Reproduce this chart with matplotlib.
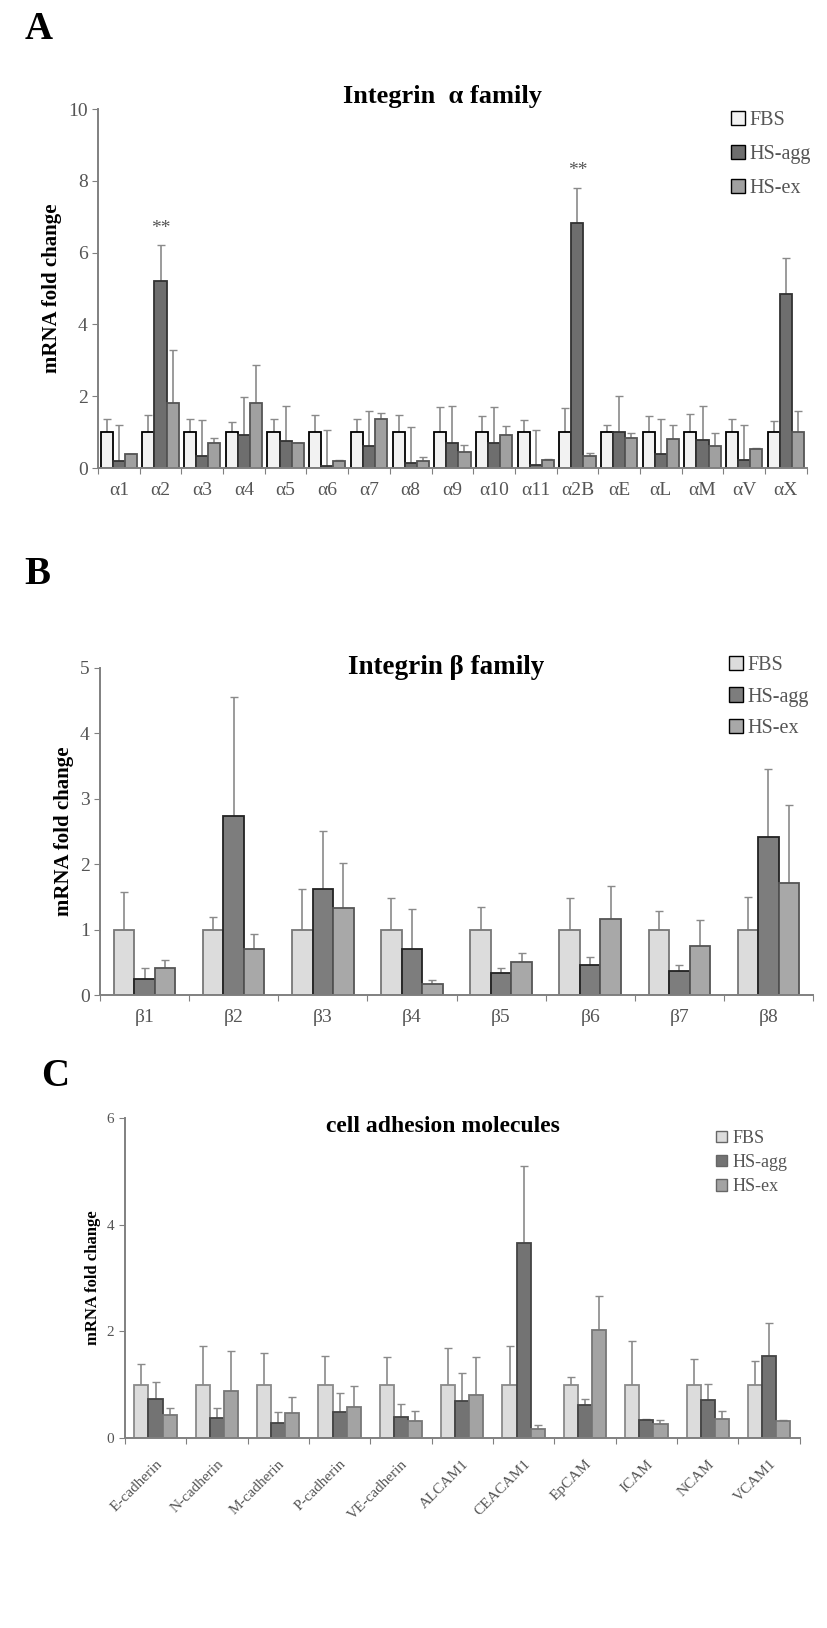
import numpy as np
import matplotlib
matplotlib.use('Agg')
import matplotlib.pyplot as plt
from matplotlib.patches import Patch

plt.rcParams['font.family'] = 'serif'
plt.rcParams['font.serif'] = ['Liberation Serif', 'DejaVu Serif']

series = ['FBS', 'HS-agg', 'HS-ex']

# ── panel A: integrin alpha family ──────────────────────────────────────────
a_labels = ['α1', 'α2', 'α3', 'α4', 'α5', 'α6', 'α7', 'α8', 'α9', 'α10',
            'α11', 'α2B', 'αE', 'αL', 'αM', 'αV', 'αX']
a_fbs = [1.0] * 17
a_fbs_sd = [.36, .48, .36, .27, .36, .48, .36, .48, .70, .44, .35, .67,
            .20, .44, .50, .36, .30]
a_agg = [.19, 5.2, .33, .93, .74, .05, .62, .14, .70, .70, .09, 6.84,
         1.0, .40, .77, .23, 4.85]
a_agg_sd = [1.01, 1.0, 1.02, 1.04, .99, 1.0, .96, 1.0, 1.03, 1.0, .96, .97,
            1.02, .96, .96, .97, 1.01]
a_ex = [.38, 1.81, .70, 1.81, .70, .19, 1.36, .19, .46, .93, .23, .33,
        .83, .81, .62, .54, 1.0]
a_ex_sd = [.02, 1.49, .13, 1.05, 0, .03, .17, .13, .19, .23, .02, .09,
           .14, .39, .35, .02, .58]
a_sig = ['α2', 'α2B']

# ── panel B: integrin beta family ───────────────────────────────────────────
b_labels = ['β1', 'β2', 'β3', 'β4', 'β5', 'β6', 'β7', 'β8']
b_fbs = [1.0] * 8
b_fbs_sd = [.58, .20, .62, .48, .35, .48, .29, .50]
b_agg = [.245, 2.73, 1.62, .70, .33, .46, .37, 2.41]
b_agg_sd = [.165, 1.82, .89, .61, .08, .12, .09, 1.04]
b_ex = [.41, .70, 1.33, .17, .50, 1.16, .75, 1.72]
b_ex_sd = [.13, .24, .69, .06, .15, .51, .40, 1.19]

# ── panel C: cell adhesion molecules ────────────────────────────────────────
c_labels = ['E-cadherin', 'N-cadherin', 'M-cadherin', 'P-cadherin',
            'VE-cadherin', 'ALCAM1', 'CEACAM1', 'EpCAM', 'ICAM', 'NCAM',
            'VCAM1']
c_fbs = [1.0] * 11
c_fbs_sd = [.39, .72, .60, .54, .51, .69, .73, .14, .81, .48, .44]
c_agg = [.73, .375, .29, .48, .39, .69, 3.66, .61, .33, .72, 1.54]
c_agg_sd = [.32, .185, .19, .36, .25, .53, 1.43, .12, .03, .29, .62]
c_ex = [.43, .89, .47, .59, .31, .81, .175, 2.03, .27, .36, .31]
c_ex_sd = [.13, .75, .30, .38, .19, .71, .075, .63, .07, .14, .02]


def draw_panel(ax, labels, means, sds, width, ymax, ystep, colors, edges,
               ylab_size, tick_size):
    n = len(labels)
    x = np.arange(n) + 0.5
    for k, (m, s) in enumerate(zip(means, sds)):
        pos = x + (k - 1) * width
        m = np.array(m)
        s = np.array(s)
        ax.bar(pos, m, width, color=colors[k], edgecolor=edges[k],
               linewidth=1.3, zorder=2)
        ax.errorbar(pos, m, yerr=[np.zeros_like(s), s], fmt='none',
                    ecolor='#8a8a8a', elinewidth=1.2, capsize=3,
                    capthick=1.0, zorder=1)
    ax.set_xlim(0, n)
    ax.set_ylim(0, ymax)
    ax.set_yticks(np.arange(0, ymax + 0.01, ystep))
    ax.set_xticks(np.arange(n + 1))
    ax.set_xticklabels([])
    ax.set_xticks(x, minor=True)
    ax.set_xticklabels(labels, minor=True, fontsize=tick_size,
                       color='#555555')
    ax.tick_params(axis='x', which='minor', length=0, pad=10)
    ax.tick_params(axis='x', which='major', length=4, color='#808080',
                   direction='out')
    ax.tick_params(axis='y', length=4, color='#808080', labelsize=tick_size,
                   labelcolor='#555555')
    for sp in ['top', 'right']:
        ax.spines[sp].set_visible(False)
    for sp in ['left', 'bottom']:
        ax.spines[sp].set_color('#808080')
        ax.spines[sp].set_linewidth(1.4)
    ax.set_ylabel('mRNA fold change', fontweight='bold', fontsize=ylab_size)
    return x


fig = plt.figure(figsize=(8.27, 16.28), dpi=100)

# panel A
axA = fig.add_axes([0.1185, 0.7125, 0.857, 0.2205])
colsA = ['#f2f2f2', '#6e6e6e', '#a0a0a0']
edgA = ['black', '#333333', '#555555']
xA = draw_panel(axA, a_labels, [a_fbs, a_agg, a_ex],
                [a_fbs_sd, a_agg_sd, a_ex_sd], 0.29, 10, 2,
                colsA, edgA, 15, 14)
for lab in a_sig:
    i = a_labels.index(lab)
    axA.text(xA[i], a_agg[i] + a_agg_sd[i] + 0.25, '**', ha='center',
             va='bottom', fontsize=14, color='#555555')
fig.text(0.535, 0.941, 'Integrin  α family', ha='center', va='center',
         fontsize=19, fontweight='bold')
legA = fig.legend([Patch(facecolor=c, edgecolor='black') for c in colsA],
                  series, loc='upper left', bbox_to_anchor=(0.862, 0.943),
                  frameon=False, fontsize=14.5, labelspacing=0.75,
                  handlelength=0.7, handleheight=0.7, handletextpad=0.2)
for t in legA.get_texts():
    t.set_color('#555555')
fig.text(0.03, 0.982, 'A', fontsize=28, fontweight='bold', va='center')

# panel B
axB = fig.add_axes([0.121, 0.3888, 0.862, 0.2009])
colsB = ['#dcdcdc', '#7d7d7d', '#a8a8a8']
edgB = ['#777777', '#222222', '#555555']
draw_panel(axB, b_labels, [b_fbs, b_agg, b_ex],
           [b_fbs_sd, b_agg_sd, b_ex_sd], 0.23, 5, 1,
           colsB, edgB, 15, 14)
fig.text(0.54, 0.590, 'Integrin β family', ha='center', va='center',
         fontsize=19.5, fontweight='bold')
legB = fig.legend([Patch(facecolor=c, edgecolor='black') for c in colsB],
                  series, loc='upper left', bbox_to_anchor=(0.860, 0.608),
                  frameon=False, fontsize=14.5, labelspacing=0.6,
                  handlelength=0.7, handleheight=0.7, handletextpad=0.2)
for t in legB.get_texts():
    t.set_color('#555555')
fig.text(0.03, 0.647, 'B', fontsize=28, fontweight='bold', va='center')

# panel C
axC = fig.add_axes([0.151, 0.1167, 0.816, 0.1966])
colsC = ['#dcdcdc', '#737373', '#a3a3a3']
edgC = ['#8a8a8a', '#444444', '#777777']
draw_panel(axC, c_labels, [c_fbs, c_agg, c_ex],
           [c_fbs_sd, c_agg_sd, c_ex_sd], 0.23, 6, 2,
           colsC, edgC, 12, 11)
axC.tick_params(axis='x', which='minor', pad=14)
for t in axC.get_xticklabels(minor=True):
    t.set_rotation(45)
    t.set_ha('right')
    t.set_rotation_mode('anchor')
fig.text(0.535, 0.308, 'cell adhesion molecules', ha='center', va='center',
         fontsize=17, fontweight='bold')
legC = fig.legend([Patch(facecolor=c, edgecolor='#666666') for c in colsC],
                  series, loc='upper left', bbox_to_anchor=(0.846, 0.316),
                  frameon=False, fontsize=13, labelspacing=0.4,
                  handlelength=0.6, handleheight=0.6, handletextpad=0.3)
for t in legC.get_texts():
    t.set_color('#555555')
fig.text(0.05, 0.339, 'C', fontsize=28, fontweight='bold', va='center')

fig.savefig('out.png', dpi=100)
